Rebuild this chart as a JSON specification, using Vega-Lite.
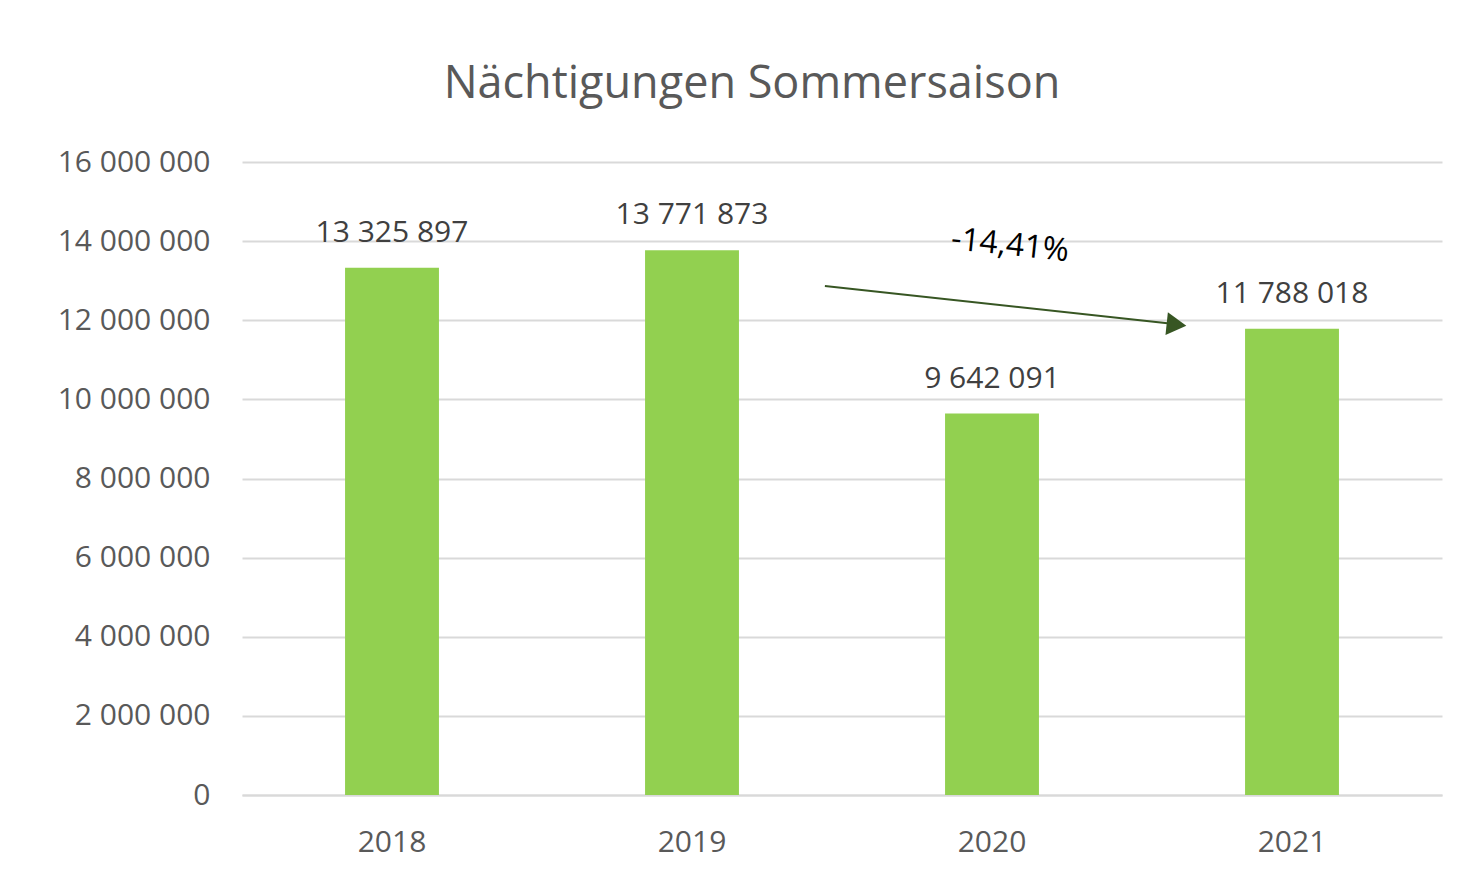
{
  "$schema": "https://vega.github.io/schema/vega-lite/v6.json",
  "autosize": "none",
  "width": 1200,
  "height": 633,
  "padding": {"left": 242, "top": 162, "right": 29, "bottom": 90},
  "background": "white",
  "config": {
    "locale": {"number": {"decimal": ",", "thousands": " ", "grouping": [3], "currency": ["", ""]}},
    "view": {"stroke": null},
    "font": "Open Sans"
  },
  "title": {
    "text": "Nächtigungen Sommersaison",
    "anchor": "middle",
    "frame": "group",
    "dx": -90,
    "offset": 40,
    "fontSize": 45,
    "fontWeight": "normal",
    "color": "#595959",
    "font": "Open Sans"
  },
  "datasets": {
    "bars": [
      {"year": "2018", "value": 13325897},
      {"year": "2019", "value": 13771873},
      {"year": "2020", "value": 9642091},
      {"year": "2021", "value": 11788018}
    ],
    "arrow": [
      {"ax": 1.943, "ay": 12865000},
      {"ax": 3.1, "ay": 11910000}
    ],
    "head": [
      {"ax": 3.115, "ay": 11890000}
    ],
    "note": [
      {"ax": 2.56, "ay": 13900000, "label": "-14,41%"}
    ]
  },
  "resolve": {"scale": {"x": "independent"}, "axis": {"x": "independent"}},
  "layer": [
    {
      "data": {"name": "bars"},
      "encoding": {
        "x": {
          "field": "year", "type": "nominal",
          "scale": {"paddingInner": 0.687, "paddingOuter": 0.3435},
          "axis": {
            "title": null, "labelAngle": 0, "ticks": false,
            "domainColor": "#d9d9d9", "domainWidth": 2,
            "labelFontSize": 30, "labelColor": "#595959", "labelPadding": 32,
            "labelFont": "Open Sans"
          }
        },
        "y": {
          "field": "value", "type": "quantitative",
          "scale": {"domain": [0, 16000000], "nice": false},
          "axis": {
            "title": null, "values": [0, 2000000, 4000000, 6000000, 8000000, 10000000, 12000000, 14000000, 16000000],
            "format": ",d", "domain": false, "ticks": false,
            "gridColor": "#d9d9d9", "gridWidth": 2,
            "labelFontSize": 30, "labelColor": "#595959", "labelPadding": 32,
            "labelFont": "Open Sans"
          }
        }
      },
      "layer": [
        {"mark": {"type": "bar", "color": "#92d050"}},
        {
          "mark": {"type": "text", "baseline": "alphabetic", "dy": -26, "fontSize": 30, "color": "#404040", "font": "Open Sans"},
          "encoding": {"text": {"field": "value", "type": "quantitative", "format": ",d"}}
        }
      ]
    },
    {
      "data": {"name": "arrow"},
      "mark": {"type": "line", "color": "#375623", "strokeWidth": 2},
      "encoding": {
        "x": {"field": "ax", "type": "quantitative", "scale": {"domain": [0, 4], "nice": false}, "axis": null},
        "y": {"field": "ay", "type": "quantitative"}
      }
    },
    {
      "data": {"name": "head"},
      "mark": {"type": "point", "shape": "triangle-right", "filled": true, "color": "#375623", "opacity": 1, "size": 520, "angle": 6},
      "encoding": {
        "x": {"field": "ax", "type": "quantitative", "scale": {"domain": [0, 4], "nice": false}, "axis": null},
        "y": {"field": "ay", "type": "quantitative"}
      }
    },
    {
      "data": {"name": "note"},
      "mark": {"type": "text", "angle": 6, "fontSize": 32, "color": "#000000", "font": "Open Sans", "baseline": "middle", "align": "center"},
      "encoding": {
        "x": {"field": "ax", "type": "quantitative", "scale": {"domain": [0, 4], "nice": false}, "axis": null},
        "y": {"field": "ay", "type": "quantitative"},
        "text": {"field": "label"}
      }
    }
  ]
}
